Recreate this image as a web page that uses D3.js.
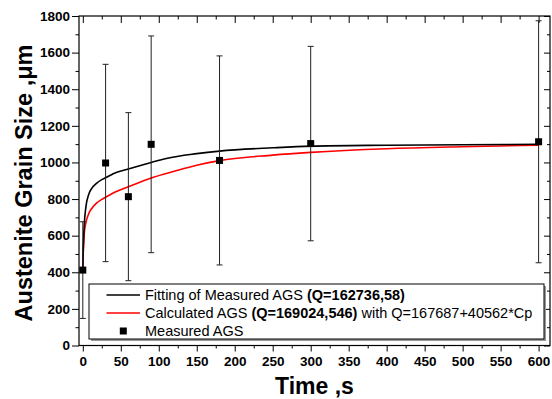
<!DOCTYPE html>
<html>
<head>
<meta charset="utf-8">
<script src="https://cdn.jsdelivr.net/npm/d3@7"></script>
<style>
  html, body { margin: 0; padding: 0; background: #fff; }
  svg { display: block; }
  text { font-family: "Liberation Sans", Arial, sans-serif; }
</style>
</head>
<body>
<svg id="chart" width="552" height="399"></svg>
<script>
// ---- data ----
const xTickValues = [0, 50, 100, 150, 200, 250, 300, 350, 400, 450, 500, 550, 600];
const yTickValues = [0, 200, 400, 600, 800, 1000, 1200, 1400, 1600, 1800];

const timeS       = [0, 30, 60, 90, 180, 300, 600];
const measuredAGS = [412, 997, 813, 1099, 1011, 1103, 1113];
const errorAGS    = [264, 539, 459, 592, 571, 531, 661];

const curveT  = [0, 0.5, 1, 2, 4, 8, 12, 18, 25, 30, 40, 60, 90, 110, 150, 180, 250, 300, 400, 500, 600];
const fitAGS  = [412, 520, 580, 665, 755, 828, 860, 886, 906, 916, 938, 964, 1000, 1022, 1048, 1062, 1080, 1089, 1094, 1097, 1099];
const calcAGS = [412, 500, 540, 615, 668, 722, 750, 778, 798, 810, 833, 867, 915, 940, 985, 1010, 1040, 1055, 1075, 1086, 1094];

const legendLabels = [
  [["Fitting of Measured AGS ", false], ["(Q=162736,58)", true]],
  [["Calculated AGS ", false], ["(Q=169024,546)", true], [" with Q=167687+40562*Cp", false]],
  [["Measured AGS", false]]
];

// ---- layout ----
const svg = d3.select("#chart");
const L = 79, R = 550, T = 16, B = 345.5;
const x = d3.scaleLinear().domain([-5, 615]).range([L, R]);
const y = d3.scaleLinear().domain([0, 1800]).range([B, T]);

const minorX = d3.range(25, 615, 50);
const minorY = d3.range(100, 1800, 200);
const fmt = d3.format("d");

function styleAxis(g) {
  g.select(".domain").remove();
  g.selectAll(".tick line").attr("stroke", "#000").attr("stroke-width", 1);
}

// bottom axis (outward ticks with labels)
svg.append("g").attr("transform", `translate(0,${B})`)
  .call(d3.axisBottom(x).tickValues(xTickValues).tickFormat(fmt).tickSize(6).tickPadding(5))
  .call(styleAxis)
  .call(g => g.selectAll("text").attr("font-size", 13.5).attr("font-weight", "bold")
    .attr("fill", "#000").attr("font-family", "Liberation Sans, Arial, sans-serif"));
svg.append("g").attr("transform", `translate(0,${B})`)
  .call(d3.axisBottom(x).tickValues(minorX).tickSize(3).tickFormat(""))
  .call(styleAxis);

// top axis (inward ticks)
svg.append("g").attr("transform", `translate(0,${T})`)
  .call(d3.axisTop(x).tickValues(xTickValues).tickSize(-7).tickFormat(""))
  .call(styleAxis);
svg.append("g").attr("transform", `translate(0,${T})`)
  .call(d3.axisTop(x).tickValues(minorX).tickSize(-3.5).tickFormat(""))
  .call(styleAxis);

// left axis (outward ticks with labels)
svg.append("g").attr("transform", `translate(${L},0)`)
  .call(d3.axisLeft(y).tickValues(yTickValues).tickFormat(fmt).tickSize(7).tickPadding(2))
  .call(styleAxis)
  .call(g => g.selectAll("text").attr("font-size", 13.5).attr("font-weight", "bold")
    .attr("fill", "#000").attr("font-family", "Liberation Sans, Arial, sans-serif"));
svg.append("g").attr("transform", `translate(${L},0)`)
  .call(d3.axisLeft(y).tickValues(minorY).tickSize(3.5).tickFormat(""))
  .call(styleAxis);

// right axis (inward ticks)
svg.append("g").attr("transform", `translate(${R},0)`)
  .call(d3.axisRight(y).tickValues(yTickValues).tickSize(-6).tickFormat(""))
  .call(styleAxis);
svg.append("g").attr("transform", `translate(${R},0)`)
  .call(d3.axisRight(y).tickValues(minorY).tickSize(-3).tickFormat(""))
  .call(styleAxis);

// frame
svg.append("rect").attr("x", L).attr("y", T).attr("width", R - L).attr("height", B - T)
  .attr("fill", "none").attr("stroke", "#000").attr("stroke-width", 1.2);

// curves
const line = d3.line().x(d => x(d[0])).y(d => y(d[1])).curve(d3.curveMonotoneX);
svg.append("path").datum(curveT.map((t, i) => [t, calcAGS[i]]))
  .attr("d", line).attr("fill", "none").attr("stroke", "#ff0000").attr("stroke-width", 1.6);
svg.append("path").datum(curveT.map((t, i) => [t, fitAGS[i]]))
  .attr("d", line).attr("fill", "none").attr("stroke", "#000").attr("stroke-width", 1.6);

// error bars
const pts = timeS.map((t, i) => ({t, v: measuredAGS[i], e: errorAGS[i]}));
const eb = svg.append("g").attr("stroke", "#222").attr("stroke-width", 1);
eb.selectAll(".v").data(pts).join("line")
  .attr("x1", d => x(d.t)).attr("x2", d => x(d.t))
  .attr("y1", d => y(d.v + d.e)).attr("y2", d => y(d.v - d.e));
eb.selectAll(".ct").data(pts).join("line")
  .attr("x1", d => x(d.t) - 3).attr("x2", d => x(d.t) + 3)
  .attr("y1", d => y(d.v + d.e)).attr("y2", d => y(d.v + d.e));
eb.selectAll(".cb").data(pts).join("line")
  .attr("x1", d => x(d.t) - 3).attr("x2", d => x(d.t) + 3)
  .attr("y1", d => y(d.v - d.e)).attr("y2", d => y(d.v - d.e));

// markers
const ms = 7;
svg.append("g").selectAll("rect").data(pts).join("rect")
  .attr("x", d => x(d.t) - ms / 2).attr("y", d => y(d.v) - ms / 2)
  .attr("width", ms).attr("height", ms).attr("fill", "#000");

// legend
const lg = svg.append("g");
lg.append("rect").attr("x", 91).attr("y", 286).attr("width", 455).attr("height", 55)
  .attr("fill", "#999");
lg.append("rect").attr("x", 89).attr("y", 284).attr("width", 455).attr("height", 55)
  .attr("fill", "#fff").attr("stroke", "#000").attr("stroke-width", 1);
const rowY = [295, 313, 331];
lg.append("line").attr("x1", 106.5).attr("x2", 140).attr("y1", rowY[0]).attr("y2", rowY[0])
  .attr("stroke", "#000").attr("stroke-width", 1.6);
lg.append("line").attr("x1", 106.5).attr("x2", 140).attr("y1", rowY[1]).attr("y2", rowY[1])
  .attr("stroke", "#ff0000").attr("stroke-width", 1.6);
lg.append("rect").attr("x", 123.3 - ms / 2).attr("y", rowY[2] - ms / 2)
  .attr("width", ms).attr("height", ms).attr("fill", "#000");
legendLabels.forEach((parts, i) => {
  const t = lg.append("text").attr("x", 145).attr("y", rowY[i] + 5)
    .attr("font-size", 14.5).attr("fill", "#000");
  parts.forEach(([s, b]) => t.append("tspan").text(s).attr("font-weight", b ? "bold" : "normal"));
});

// axis titles
svg.append("text").attr("x", (L + R) / 2).attr("y", 394).attr("text-anchor", "middle")
  .attr("font-size", 23).attr("font-weight", "bold").attr("fill", "#000").text("Time ,s");
svg.append("text").attr("transform", "translate(31.5,183) rotate(-90)")
  .attr("text-anchor", "middle").attr("font-size", 23.5).attr("font-weight", "bold")
  .attr("fill", "#000").text("Austenite Grain Size ,μm");
</script>
</body>
</html>
